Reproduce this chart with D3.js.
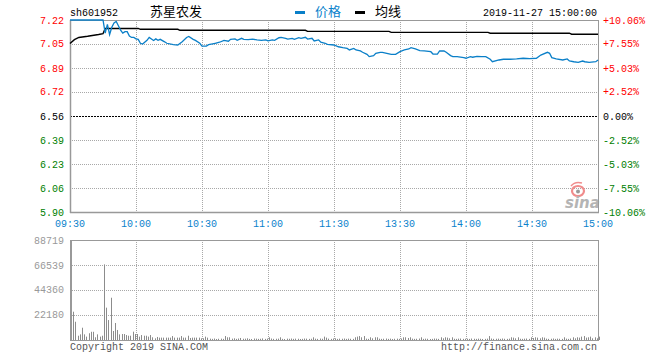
<!DOCTYPE html>
<html><head><meta charset="utf-8">
<script src="https://cdn.jsdelivr.net/npm/d3@7"></script>
<style>body{margin:0;background:#fff}svg{display:block}</style>
</head><body>
<script>
const stockCode = "sh601952";
const stockName = "苏星农发";
const dateText = "2019-11-27 15:00:00";
const prevClose = 6.56;
const priceTickLabels = ["7.22","7.05","6.89","6.72","6.56","6.39","6.23","6.06","5.90"];
const pctTickValues = [10.06, 7.55, 5.03, 2.52, 0, -2.52, -5.03, -7.55, -10.06];
const pctTickLabels = ["+10.06%","+7.55%","+5.03%","+2.52%","0.00%","-2.52%","-5.03%","-7.55%","-10.06%"];
const timeLabels = ["09:30","10:00","10:30","11:00","11:30","13:30","14:00","14:30","15:00"];
const volTickValues = [88719, 66539, 44360, 22180];

const priceTimes = ["09:30","09:45","09:46","09:47","09:48","09:49","09:50","09:51","09:52","09:53","09:54","09:55","09:56","09:57","09:58","09:59","10:00",
"10:01","10:02","10:03","10:05","10:06","10:08","10:09","10:10","10:11","10:13","10:14","10:17","10:19","10:21","10:23","10:24","10:26","10:27","10:29","10:30",
"10:32","10:33","10:36","10:38","10:40","10:42","10:43","10:45","10:46","10:48","10:49","10:51","10:53","10:55","10:57","10:59","11:00",
"11:02","11:03","11:05","11:06","11:08","11:09","11:11","11:12","11:14","11:15","11:17","11:18","11:20","11:21","11:23","11:24","11:26","11:27","11:30",
"13:02","13:04","13:06","13:07","13:09","13:10","13:12","13:13","13:15","13:16","13:18","13:19","13:21","13:22","13:24","13:26","13:28","13:30",
"13:32","13:34","13:35","13:37","13:39","13:41","13:44","13:45","13:47","13:48","13:50","13:51","13:53","13:54","13:56","13:59","14:00",
"14:02","14:03","14:05","14:07","14:09","14:11","14:12","14:15","14:17","14:20","14:23","14:26","14:29","14:32","14:34","14:37","14:38","14:39",
"14:41","14:44","14:46","14:47","14:49","14:51","14:53","14:54","14:56","14:59","15:00"];
const priceValues = [7.22,7.22,7.13,7.19,7.12,7.17,7.20,7.21,7.18,7.15,7.13,7.14,7.14,7.11,7.10,7.10,7.09,
7.087,7.06,7.055,7.08,7.10,7.079,7.09,7.08,7.087,7.07,7.06,7.05,7.048,7.07,7.10,7.107,7.087,7.08,7.06,7.041,
7.041,7.05,7.06,7.067,7.08,7.074,7.087,7.09,7.08,7.094,7.087,7.085,7.089,7.083,7.08,7.083,7.076,
7.083,7.08,7.098,7.101,7.094,7.089,7.094,7.087,7.098,7.094,7.101,7.089,7.094,7.076,7.083,7.067,7.06,7.053,7.048,
7.036,7.03,7.025,7.014,7.025,7.014,7.007,6.998,6.984,6.968,6.975,6.991,6.998,6.998,6.991,6.984,6.984,7.002,
7.014,7.021,7.03,7.021,7.01,7.007,7.002,6.986,6.986,7.007,7.007,6.998,6.975,6.968,6.968,6.961,6.957,
6.968,6.964,6.97,6.968,6.968,6.95,6.933,6.945,6.95,6.95,6.952,6.957,6.954,6.957,6.979,6.998,6.991,6.961,
6.952,6.945,6.952,6.938,6.933,6.929,6.938,6.933,6.929,6.933,6.945];

const avgTimes = ["09:30","09:32","09:34","09:38","09:43","09:45","09:46","10:01","10:02","10:19","10:20","11:17","11:18","13:25","13:26","14:10","14:11","14:47","14:48","15:00"];
const avgValues = [7.058,7.085,7.100,7.108,7.120,7.126,7.162,7.162,7.156,7.156,7.149,7.149,7.142,7.142,7.135,7.135,7.129,7.129,7.122,7.122];

const volumes = [
0,25100,16200,3800,5000,10900,5000,3000,6000,7300,
7300,2400,5000,3000,3800,67100,28700,17700,37500,8000,
15100,8900,5000,5300,5300,4400,3800,3800,7400,5300,
5300,3000,4400,3800,3800,3000,4400,2400,1500,2700,
2100,2100,2100,2100,2100,2100,3500,2100,2100,2100,
3500,2100,2100,3800,1800,2100,2100,2100,2100,1500,
1500,3000,2100,1200,1000,1300,900,1100,1200,1000,
3500,2400,2400,1200,1500,1000,1300,1800,1100,1200,
1500,1000,900,1300,1200,1000,1100,1400,1000,1200,
2400,1300,1000,1100,1200,2400,1000,900,1200,1100,
1300,1000,1200,1100,900,1000,1300,1200,1000,1100,
2400,1200,1000,1300,1100,3000,2100,1200,1000,1300,
1500,1000,1200,1100,1300,1000,1200,1100,1000,2400,
3000,3500,2400,3500,1200,1000,2400,1500,2400,2400,
1200,1000,1100,1300,1000,1200,900,1100,1200,1000,
1300,2400,2400,1800,2400,1200,1000,1100,1300,2400,
1000,1200,1100,900,1000,1300,1200,1000,2400,1500,
2400,2100,1500,2400,1100,1000,1200,1300,1000,1100,
1200,1000,1300,1100,1000,1200,1100,900,1000,1200,
3500,1300,1000,1100,1200,1000,1300,1100,1000,1200,
2400,2100,1500,2400,1100,1000,1200,1300,1000,2400,
1800,2400,2100,1500,2400,2100,1200,1000,1100,1300,
1000,1200,1100,1000,2400,1200,1000,1300,2400,1500,
2400,2100,3000,3500,2100,2400,3000,1500,2400,1500,
3000];

function tIndex(t){
  const [h,m] = t.split(":").map(Number);
  const mm = h*60+m;
  return h < 12 ? mm - 570 : mm - 780 + 120;
}

const W = 660, H = 360;
const L = 70, R = 598, PT = 20, PB = 212, VT = 240, VB = 340;
const MONO = "'Liberation Mono','DejaVu Sans Mono',monospace";
const CJK = "'Noto Sans CJK SC',sans-serif";
const RED = "#ff0000", GREEN = "#008000", BLUE = "#0a7fc8", GRID = "#a8a8a8", AXIS = "#999";

const svg = d3.select("body").append("svg").attr("width", W).attr("height", H);

const x = d3.scaleLinear().domain([0, 240]).range([L, R]);
const y = d3.scaleLinear().domain([prevClose*(1-0.1006), prevClose*(1+0.1006)]).range([PB, PT]);
const yv = d3.scaleLinear().domain([0, volTickValues[0]]).range([VB, VT]);

// price grid
const gridTimes = timeLabels.slice(1, -1);
pctTickValues.forEach((p, i) => {
  if (i === 0 || i === pctTickValues.length - 1) return;
  const yy = Math.round(y(prevClose*(1+p/100))) + 0.5;
  svg.append("line").attr("x1", L).attr("x2", R).attr("y1", yy).attr("y2", yy)
    .attr("stroke", p === 0 ? "#000" : GRID).attr("stroke-width", 1)
    .attr("stroke-dasharray", p === 0 ? "2,1" : "1,1");
});
gridTimes.forEach(t => {
  const xx = Math.round(x(tIndex(t))) + 0.5;
  svg.append("line").attr("x1", xx).attr("x2", xx).attr("y1", PT).attr("y2", PB)
    .attr("stroke", GRID).attr("stroke-dasharray", "1,1");
  svg.append("line").attr("x1", xx).attr("x2", xx).attr("y1", VT).attr("y2", VB)
    .attr("stroke", GRID).attr("stroke-dasharray", "1,1");
});
// volume grid
volTickValues.slice(1).forEach(v => {
  const yy = Math.round(yv(v)) + 0.5;
  svg.append("line").attr("x1", L).attr("x2", R).attr("y1", yy).attr("y2", yy)
    .attr("stroke", GRID).attr("stroke-dasharray", "1,1");
});

// sina watermark
const wm = svg.append("g");
wm.append("ellipse").attr("cx", 578).attr("cy", 191).attr("rx", 6).attr("ry", 5)
  .attr("fill", "none").attr("stroke", "#f08c8c").attr("stroke-width", 2.2);
wm.append("path").attr("d", "M571,186 Q575,181 582,183").attr("fill", "none")
  .attr("stroke", "#f08c8c").attr("stroke-width", 1.5);
wm.append("circle").attr("cx", 578).attr("cy", 191.5).attr("r", 2).attr("fill", "#999");
wm.append("text").attr("x", 565).attr("y", 208).text("sina")
  .attr("font-family", "'DejaVu Sans',sans-serif").attr("font-size", 15).attr("font-weight", "bold")
  .attr("font-style", "italic").attr("fill", "#b4b4b4");

// borders
svg.append("rect").attr("x", L + 0.5).attr("y", PT + 0.5).attr("width", R - L).attr("height", PB - PT)
  .attr("fill", "none").attr("stroke", AXIS);
svg.append("line").attr("x1", L + 0.5).attr("x2", L + 0.5).attr("y1", PT).attr("y2", PB + 1)
  .attr("stroke", AXIS).attr("stroke-width", 1.5);
svg.append("line").attr("x1", L).attr("x2", R + 1).attr("y1", PB + 0.5).attr("y2", PB + 0.5)
  .attr("stroke", AXIS).attr("stroke-width", 1.5);
svg.append("rect").attr("x", L + 0.5).attr("y", VT + 0.5).attr("width", R - L).attr("height", VB - VT)
  .attr("fill", "none").attr("stroke", AXIS);
svg.append("line").attr("x1", L + 1).attr("x2", L + 1).attr("y1", VT).attr("y2", VB + 1)
  .attr("stroke", AXIS).attr("stroke-width", 2);

// volume bars
svg.append("g").selectAll("rect").data(volumes).join("rect")
  .attr("x", (d, i) => Math.round(x(i)) + 1)
  .attr("width", 1)
  .attr("y", d => yv(d))
  .attr("height", d => VB - yv(d))
  .attr("fill", "#8c8c8c");

// avg line
const avgData = avgTimes.map((t, i) => ({t: tIndex(t), v: avgValues[i]}));
svg.append("path").datum(avgData)
  .attr("d", d3.line().x(d => x(d.t)).y(d => y(d.v)))
  .attr("fill", "none").attr("stroke", "#000").attr("stroke-width", 1.4);

// price line
const priceData = priceTimes.map((t, i) => ({t: tIndex(t), v: priceValues[i]}));
svg.append("path").datum(priceData)
  .attr("d", d3.line().x(d => x(d.t)).y(d => y(d.v)))
  .attr("fill", "none").attr("stroke", BLUE).attr("stroke-width", 1.3);

// left price labels
priceTickLabels.forEach((lab, i) => {
  const p = pctTickValues[i];
  svg.append("text").attr("x", 64).attr("y", y(prevClose*(1+p/100))).attr("dy", "0.35em")
    .attr("text-anchor", "end").attr("font-family", MONO).attr("font-size", 10)
    .attr("fill", p > 0 ? RED : p < 0 ? GREEN : "#000").text(lab);
});
// right pct labels
pctTickLabels.forEach((lab, i) => {
  const p = pctTickValues[i];
  svg.append("text").attr("x", 603).attr("y", y(prevClose*(1+p/100))).attr("dy", "0.35em")
    .attr("font-family", MONO).attr("font-size", 10)
    .attr("fill", p > 0 ? RED : p < 0 ? GREEN : "#000").text(lab);
});
// time labels
timeLabels.forEach(t => {
  svg.append("text").attr("x", x(tIndex(t))).attr("y", 227).attr("text-anchor", "middle")
    .attr("font-family", MONO).attr("font-size", 10).attr("fill", "#0a82cc").text(t);
});
// volume labels
volTickValues.forEach(v => {
  svg.append("text").attr("x", 64).attr("y", yv(v)).attr("dy", "0.35em").attr("text-anchor", "end")
    .attr("font-family", MONO).attr("font-size", 10).attr("fill", "#999").text(v);
});

// header
svg.append("text").attr("x", 70).attr("y", 16).attr("font-family", MONO).attr("font-size", 10)
  .attr("fill", "#000").text(stockCode);
svg.append("text").attr("x", 150).attr("y", 16).attr("font-family", CJK).attr("font-size", 13)
  .attr("fill", "#000").text(stockName);
svg.append("rect").attr("x", 295).attr("y", 11).attr("width", 10).attr("height", 3).attr("fill", BLUE);
svg.append("text").attr("x", 315).attr("y", 16).attr("font-family", CJK).attr("font-size", 13)
  .attr("fill", "#0a82cc").text("价格");
svg.append("rect").attr("x", 355).attr("y", 11).attr("width", 10).attr("height", 3).attr("fill", "#000");
svg.append("text").attr("x", 375).attr("y", 16).attr("font-family", CJK).attr("font-size", 13)
  .attr("fill", "#000").text("均线");
svg.append("text").attr("x", 597).attr("y", 16).attr("text-anchor", "end").attr("font-family", MONO)
  .attr("font-size", 10).attr("fill", "#000").text(dateText);

// footer
svg.append("text").attr("x", 70).attr("y", 350).attr("font-family", MONO).attr("font-size", 10)
  .attr("fill", "#555").text("Copyright 2019 SINA.COM");
svg.append("text").attr("x", 597).attr("y", 350).attr("text-anchor", "end").attr("font-family", MONO)
  .attr("font-size", 10).attr("fill", "#555").text("http://finance.sina.com.cn");
</script>
</body></html>
